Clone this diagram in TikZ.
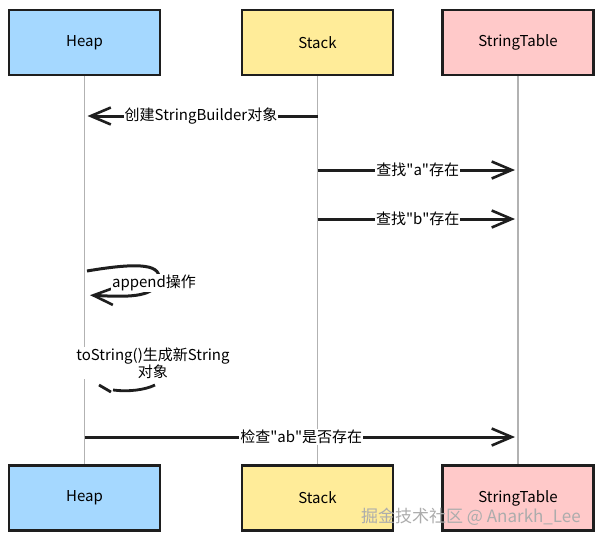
\documentclass[tikz,border=0pt]{standalone}
\usepackage{fontspec}
\setmainfont{Noto Sans CJK SC}
\usepackage{tikz}
\usetikzlibrary{arrows.meta,positioning}

\definecolor{heapblue}{HTML}{A5D8FF}
\definecolor{stackyellow}{HTML}{FFEC99}
\definecolor{tablepink}{HTML}{FFC9C9}
\definecolor{inkblack}{HTML}{1E1E1E}

\tikzset{
  actor/.style={draw=inkblack, line width=2.8pt, minimum width=151pt, minimum height=65pt, font=\fontsize{15}{17}\selectfont},
  lifeline/.style={draw=gray!60, line width=1.3pt},
  msg/.style={draw=inkblack, line width=3pt, shorten >=3pt, -{Straight Barb[length=20pt,width=17pt,line width=2.6pt]}},
  msglabel/.style={fill=white, inner sep=1pt, font=\fontsize{15}{17}\selectfont},
}
\newcommand{\qt}{\textquotedbl{}}

\begin{document}
\begin{tikzpicture}[x=1pt,y=-1pt]
\useasboundingbox (0,0) rectangle (603,542);

% Participants, top
\node[actor, fill=heapblue] (heapTop) at (84.5,42.5) {Heap};
\node[actor, fill=stackyellow] (stackTop) at (317.5,42.5) {Stack};
\node[actor, fill=tablepink] (tableTop) at (518,42.5) {StringTable};

% Participants, bottom
\node[actor, fill=heapblue] (heapBot) at (84.5,498) {Heap};
\node[actor, fill=stackyellow] (stackBot) at (317.5,498) {Stack};
\node[actor, fill=tablepink] (tableBot) at (518,498) {StringTable};

% Lifelines
\draw[lifeline] (heapTop.south) -- (heapBot.north);
\draw[lifeline] (stackTop.south) -- (stackBot.north);
\draw[lifeline] (tableTop.south) -- (tableBot.north);

% Points on the lifelines
\coordinate (h1) at (heapTop.south |- 0,116);
\coordinate (s1) at (stackTop.south |- 0,116);
\coordinate (s2) at (stackTop.south |- 0,170);
\coordinate (t2) at (tableTop.south |- 0,170);
\coordinate (s3) at (stackTop.south |- 0,219);
\coordinate (t3) at (tableTop.south |- 0,219);
\coordinate (h5) at (heapTop.south |- 0,437);
\coordinate (t5) at (tableTop.south |- 0,437);

% Messages
\draw[msg] (s1) -- node[msglabel] {创建StringBuilder对象} (h1);
\draw[msg] (s2) -- node[msglabel] {查找\qt a\qt 存在} (t2);
\draw[msg] (s3) -- node[msglabel] {查找\qt b\qt 存在} (t3);
\draw[msg] (h5) -- node[msglabel] {检查\qt ab\qt 是否存在} (t5);

% Self call: append
\coordinate (appendOut) at (87,271);
\coordinate (appendIn) at (87,295);
\draw[msg] (appendOut) .. controls (140,262) and (164,264) .. (158,282)
  .. controls (153,298) and (125,297) .. (appendIn);
\node[msglabel] (appendLbl) at (154,283) {append操作};

% Self call: toString (only the lower stroke shows)
\draw[inkblack, line width=2.8pt] (113,390) .. controls (128,392) and (145,390) .. (155,385);
\draw[inkblack, line width=2.8pt] (99,385) -- (111,392);
\node[msglabel, align=center] (toStrLbl) at (153,363) {toString()生成新String\\对象};

% Watermark
\node[gray!65, font=\fontsize{17}{19}\selectfont] (mark) at (471,517) {掘金技术社区 @ Anarkh\_Lee};

\end{tikzpicture}
\end{document}
